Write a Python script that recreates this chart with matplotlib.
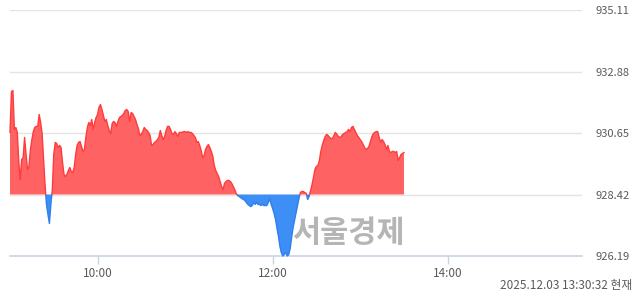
import matplotlib; matplotlib.use("Agg")
import matplotlib.pyplot as plt
from matplotlib.patches import Rectangle
import numpy as np

plt.rcParams["font.family"] = ["Noto Sans CJK KR", "DejaVu Sans"]

RED = "#ff6262"; RED_LINE = "#ff3b3b"; BLUE = "#3d8ef5"; BLUE_LINE = "#2f7fee"
GRID = "#e4e4e4"; AXIS = "#c9d3e6"; TXT = "#5a5a5a"

# index price, one value per minute from 09:00
prices = [
    930.67, 932.15, 932.19, 930.78, 930.85, 930.67, 929.62, 928.96, 929.69, 929.76,
    930.49, 929.87, 929.33, 929.44, 930.05, 930.41, 930.70, 930.85, 930.89, 930.89,
    931.32, 931.03, 930.63, 929.69, 928.78, 928.06, 927.70, 927.37, 928.06, 928.60,
    929.87, 930.31, 930.27, 930.12, 930.20, 930.12, 929.58, 929.15, 929.07, 929.15,
    929.29, 929.40, 929.25, 929.22, 929.40, 929.87, 930.20, 930.31, 930.34, 930.16,
    929.98, 930.05, 930.49, 930.85, 931.03, 930.92, 931.14, 930.78, 931.03, 931.21,
    931.32, 931.58, 931.68, 931.50, 931.29, 931.07, 931.14, 930.92, 930.74, 930.63,
    930.99, 931.07, 931.03, 930.89, 931.07, 931.21, 931.25, 931.29, 931.36, 931.47,
    931.50, 931.43, 931.07, 931.39, 931.36, 931.25, 931.14, 930.96, 930.81, 930.56,
    930.60, 930.70, 930.85, 930.78, 930.74, 930.67, 930.56, 930.20, 930.23, 930.31,
    930.34, 930.41, 930.49, 930.74, 930.56, 930.41, 930.52, 930.74, 930.89, 930.89,
    930.78, 930.63, 930.60, 930.70, 930.63, 930.52, 930.67, 930.67, 930.67, 930.70,
    930.70, 930.67, 930.70, 930.67, 930.67, 930.63, 930.56, 930.49, 930.31, 930.34,
    930.20, 930.02, 929.76, 929.83, 930.05, 930.16, 930.23, 930.12, 929.98, 929.80,
    929.47, 929.29, 929.18, 929.07, 928.89, 928.71, 928.60, 928.82, 928.89, 928.93,
    928.93, 928.89, 928.82, 928.71, 928.60, 928.46, 928.38, 928.35, 928.31, 928.27,
    928.24, 928.20, 928.13, 928.06, 928.02, 927.98, 928.02, 928.13, 928.06, 928.13,
    928.06, 928.06, 928.02, 928.06, 928.02, 928.02, 928.02, 928.13, 928.27, 928.06,
    927.91, 927.73, 927.51, 927.19, 926.90, 926.53, 926.30, 926.19, 926.25, 926.32,
    926.19, 926.24, 926.46, 926.86, 927.22, 927.48, 927.73, 927.98, 928.27, 928.49,
    928.53, 928.53, 928.49, 928.46, 928.24, 928.35, 928.56, 928.78, 929.04, 929.33,
    929.44, 929.47, 929.65, 929.98, 930.20, 930.38, 930.52, 930.60, 930.56, 930.49,
    930.45, 930.45, 930.56, 930.67, 930.60, 930.52, 930.49, 930.52, 930.60, 930.63,
    930.67, 930.70, 930.78, 930.70, 930.85, 930.89, 930.78, 930.67, 930.56, 930.49,
    930.41, 930.34, 930.23, 930.12, 930.05, 930.09, 930.16, 930.34, 930.52, 930.63,
    930.67, 930.70, 930.70, 930.49, 930.31, 930.41, 930.34, 930.23, 930.05, 930.20,
    929.98, 929.94, 929.98, 929.98, 929.94, 929.98, 929.65, 929.76, 929.87, 929.91,
    929.94,
]
prev_close = 928.42
y_ticks = [926.19, 928.42, 930.65, 932.88, 935.11]
x_ticks = [60, 180, 300]
x_labels = ["10:00", "12:00", "14:00"]
stamp = "2025.12.03 13:30:32 현재"

t = np.arange(len(prices)); v = np.array(prices)

fig = plt.figure(figsize=(6.4, 2.94), dpi=100)
ax = fig.add_axes([10/640, 38/294, 572/640, 246/294])
ax.set_xlim(0, 392); ax.set_ylim(y_ticks[0], y_ticks[-1])

for y in y_ticks[1:]:
    ax.axhline(y, color=GRID, lw=1, zorder=0)
ax.axhline(y_ticks[0], color=AXIS, lw=1.2, zorder=0, clip_on=False)

ax.fill_between(t, v, prev_close, where=v >= prev_close, interpolate=True, color=RED, lw=0, zorder=2)
ax.fill_between(t, v, prev_close, where=v <= prev_close, interpolate=True, color=BLUE, lw=0, zorder=2)
l1, = ax.plot(t, v, color=RED_LINE, lw=1, zorder=3)
l1.set_clip_path(Rectangle((-10, prev_close), 500, 20, transform=ax.transData))
l2, = ax.plot(t, v, color=BLUE_LINE, lw=1, zorder=3)
l2.set_clip_path(Rectangle((-10, prev_close - 20), 500, 20, transform=ax.transData))

for s in ax.spines.values(): s.set_visible(False)
ax.set_xticks(x_ticks, x_labels)
ax.tick_params(axis="x", length=6, width=1, color=AXIS, labelcolor=TXT, labelsize=8.5, pad=2)
ax.set_yticks(y_ticks, [f"{y:.2f}" for y in y_ticks])
ax.yaxis.tick_right()
ax.tick_params(axis="y", length=0, labelcolor=TXT, labelsize=8, pad=10)

# watermark, centred in axes fraction
ax.text(0.592, 0.093, "서울경제", transform=ax.transAxes, ha="center", va="center",
        fontsize=22, fontweight="bold", color="#a8a8a8", alpha=0.85, zorder=5)
fig.text(632/640, 1 - 286/294, stamp, ha="right", va="center", fontsize=8.5, color=TXT)

fig.savefig("out.png", dpi=100)
